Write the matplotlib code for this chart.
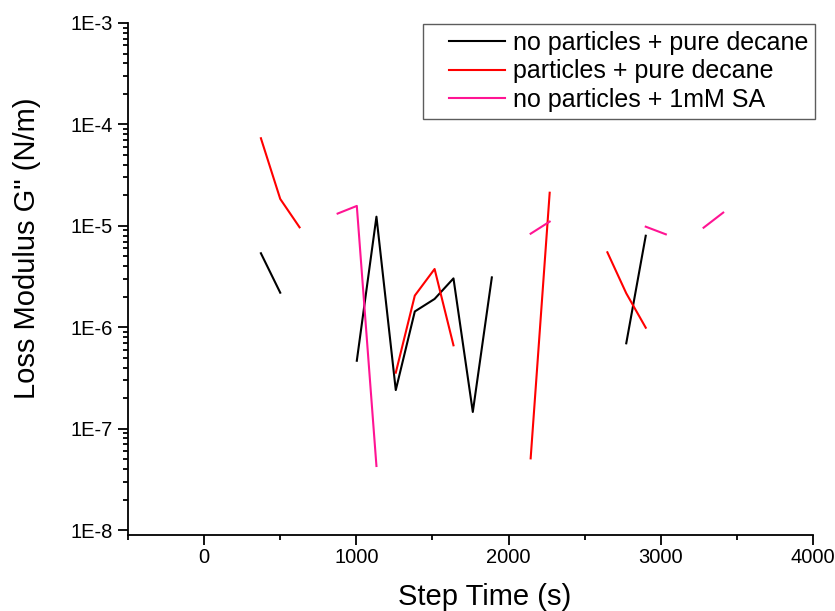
import numpy as np
import matplotlib
matplotlib.use("Agg")
import matplotlib.pyplot as plt
from matplotlib.legend_handler import HandlerLine2D
from matplotlib.ticker import FuncFormatter, LogLocator, MultipleLocator

plt.rcParams['font.family'] = ['Liberation Sans', 'DejaVu Sans']

nan = np.nan

# no particles + pure decane
t_negro = [373, 500, nan, 1003, 1132, 1259, 1384, 1514, 1638, 1765, 1890, nan, 2773, 2901]
g_negro = [5.36e-6, 2.19e-6, nan, 4.67e-7, 1.23e-5, 2.40e-7, 1.43e-6, 1.90e-6, 3.03e-6, 1.46e-7, 3.10e-6, nan, 6.94e-7, 7.98e-6]

# particles + pure decane
t_rojo = [373, 500, 627, nan, 1259, 1384, 1514, 1638, nan, 2145, 2270, nan, 2649, 2773, 2901]
g_rojo = [7.3e-5, 1.84e-5, 9.66e-6, nan, 3.56e-7, 2.05e-6, 3.75e-6, 6.63e-7, nan, 5.09e-8, 2.12e-5, nan, 5.48e-6, 2.16e-6, 9.89e-7]

# no particles + 1mM SA
t_rosa = [877, 1003, 1132, nan, 2145, 2270, nan, 2901, 3033, nan, 3281, 3410]
g_rosa = [1.32e-5, 1.57e-5, 4.28e-8, nan, 8.36e-6, 1.10e-5, nan, 9.80e-6, 8.24e-6, nan, 9.58e-6, 1.35e-5]

etiquetas = ['no particles + pure decane', 'particles + pure decane', 'no particles + 1mM SA']

fig = plt.figure(figsize=(8.35, 6.11), dpi=100)
ax = fig.add_axes([0.1533, 0.1252, 0.8204, 0.8372])

ax.plot(t_negro, g_negro, color='black', lw=1.5, label=etiquetas[0])
ax.plot(t_rojo, g_rojo, color='#ff0000', lw=1.5, label=etiquetas[1])
ax.plot(t_rosa, g_rosa, color='#ff1493', lw=1.5, label=etiquetas[2])

ax.set_yscale('log')
ax.set_xlim(-500, 4000)
ax.set_ylim(10 ** -8.044, 1e-3)

ax.spines['top'].set_visible(False)
ax.spines['right'].set_visible(False)
for s in ('left', 'bottom'):
    ax.spines[s].set_linewidth(1.3)

ax.xaxis.set_major_locator(MultipleLocator(1000))
ax.xaxis.set_minor_locator(MultipleLocator(500))
ax.yaxis.set_major_locator(LogLocator(base=10, numticks=10))
ax.yaxis.set_minor_locator(LogLocator(base=10, subs=np.arange(2, 10), numticks=20))
ax.yaxis.set_major_formatter(FuncFormatter(lambda v, p: f"1E{int(round(np.log10(v)))}"))
ax.yaxis.set_minor_formatter(FuncFormatter(lambda v, p: ""))

ax.tick_params(axis='both', which='major', direction='out', length=7, width=1.3, labelsize=14.5)
ax.tick_params(axis='both', which='minor', direction='out', length=3.5, width=1.3)
ax.tick_params(axis='x', which='major', pad=3)
ax.tick_params(axis='y', which='major', pad=4)

ax.set_xlabel('Step Time (s)', fontsize=21)
ax.set_ylabel('Loss Modulus G" (N/m)', fontsize=21)
ax.xaxis.set_label_coords(0.521, -0.094)
ax.yaxis.set_label_coords(-0.127, 0.56)

leg = ax.legend(loc='upper right', bbox_to_anchor=(1.003, 0.998), fontsize=18,
                frameon=True, fancybox=False, edgecolor='#333333', handlelength=3.0,
                labelspacing=0.19, borderpad=0.27, handletextpad=0.32, borderaxespad=0,
                handler_map={plt.Line2D: HandlerLine2D(xpad=0.75)})
leg.get_frame().set_linewidth(1.0)

fig.savefig('out.png', dpi=100)
